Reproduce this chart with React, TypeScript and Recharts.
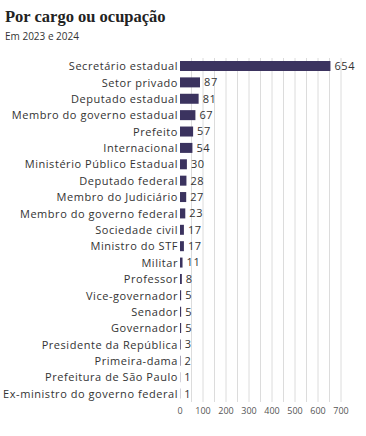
import React from "react";
import { BarChart, Bar, XAxis, YAxis, CartesianGrid, LabelList } from "recharts";

const categories = [
  "Secretário estadual",
  "Setor privado",
  "Deputado estadual",
  "Membro do governo estadual",
  "Prefeito",
  "Internacional",
  "Ministério Público Estadual",
  "Deputado federal",
  "Membro do Judiciário",
  "Membro do governo federal",
  "Sociedade civil",
  "Ministro do STF",
  "Militar",
  "Professor",
  "Vice-governador",
  "Senador",
  "Governador",
  "Presidente da República",
  "Primeira-dama",
  "Prefeitura de São Paulo",
  "Ex-ministro do governo federal",
];
const values = [654, 87, 81, 67, 57, 54, 30, 28, 27, 23, 17, 17, 11, 8, 5, 5, 5, 3, 2, 1, 1];
const xTicks = [0, 100, 200, 300, 400, 500, 600, 700];
const gridValues = [50, 100, 150, 200, 250, 300, 350, 400, 450, 500, 550, 600, 650, 700];

const data = categories.map((c, i) => ({ name: c, value: values[i] }));

const FONT = "'Open Sans', sans-serif";

const CatTick = (props: any) => {
  const { x, y, payload } = props;
  return (
    <text
      x={x}
      y={y}
      dy={4}
      textAnchor="end"
      fontFamily={FONT}
      fontSize={11}
      letterSpacing={0.55}
      fill="#333"
    >
      {payload.value}
    </text>
  );
};

export default function App() {
  return (
    <div style={{ position: "absolute", left: 0, top: 0, width: 366, height: 436, background: "#fff" }}>
      <div style={{ position: "absolute", left: 5, top: 7, fontFamily: "'Liberation Serif', serif", fontWeight: 700, fontSize: 16.5, color: "#222", lineHeight: "20px" }}>
        Por cargo ou ocupação
      </div>
      <div style={{ position: "absolute", left: 5, top: 29, fontFamily: FONT, fontSize: 10, color: "#333", lineHeight: "14px" }}>
        Em 2023 e 2024
      </div>
      <BarChart
        width={366}
        height={436}
        data={data}
        layout="vertical"
        margin={{ top: 58, right: 25, bottom: 16, left: 0 }}
        barCategoryGap={3}
      >
        <CartesianGrid
          horizontal={false}
          stroke="#dcdcdc"
          strokeWidth={1}
          verticalCoordinatesGenerator={(props: any) => {
            const sc = props?.xAxis?.scale;
            if (sc && typeof sc === "function") return gridValues.map((v) => sc(v));
            const off = props.offset;
            return gridValues.map((v) => off.left + (off.width * v) / 700);
          }}
        />
        <XAxis
          type="number"
          domain={[0, 700]}
          ticks={xTicks}
          axisLine={false}
          tickLine={false}
          tick={{ fontFamily: FONT, fontSize: 9, fill: "#555" }}
          height={18}
          tickMargin={0}
        />
        <YAxis
          type="category"
          dataKey="name"
          width={180}
          axisLine={false}
          tickLine={false}
          tickSize={2}
          tickMargin={0}
          interval={0}
          tick={<CatTick />}
        />
        <Bar dataKey="value" fill="#3b335f" barSize={10} isAnimationActive={false}>
          <LabelList dataKey="value" position="right" offset={4} style={{ fontFamily: FONT, fontSize: 11, fill: "#333", letterSpacing: 0.6 }} />
        </Bar>
      </BarChart>
    </div>
  );
}
